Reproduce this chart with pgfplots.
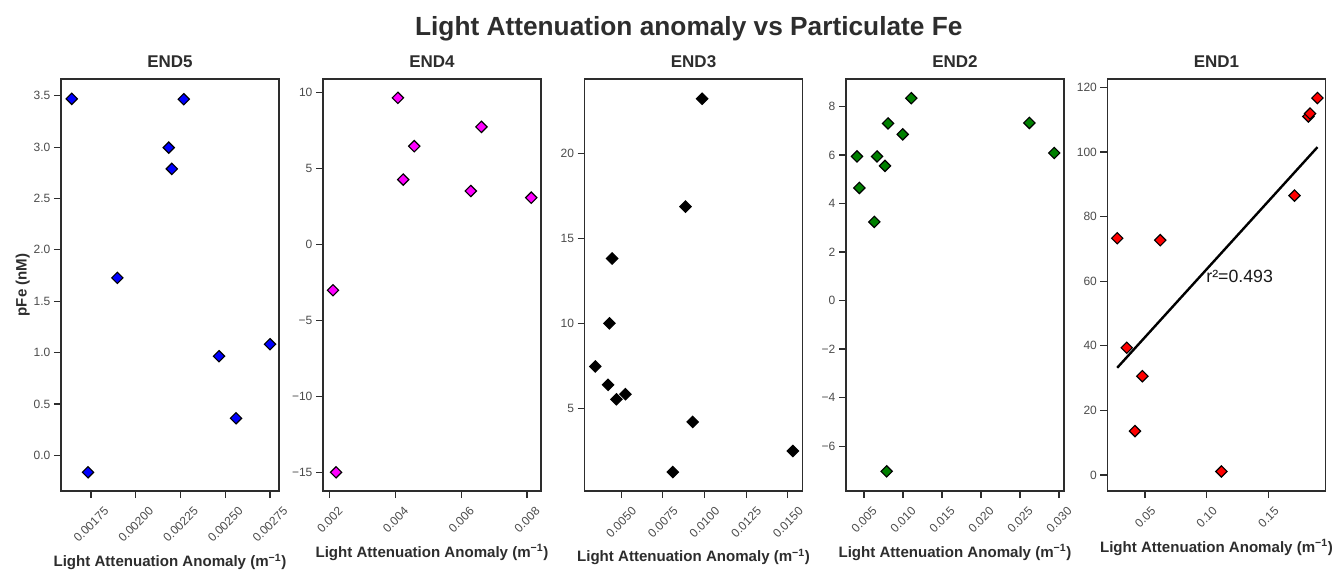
\documentclass[border=0pt]{standalone}
\usepackage{pgfplots}
\pgfplotsset{compat=1.18}
\usepackage{fontspec}
\setmainfont{Liberation Sans}
\usepackage{graphicx}
\definecolor{axgray}{RGB}{45,45,45}
\definecolor{tkgray}{RGB}{75,75,75}
\definecolor{cblue}{RGB}{0,0,255}
\definecolor{cmag}{RGB}{255,0,255}
\definecolor{cgreen}{RGB}{0,128,0}
\definecolor{cred}{RGB}{255,0,0}
\newcommand{\rl}[1]{\rotatebox{45}{#1}}
\pgfplotsset{
  panel/.style={
    scale only axis, width=163.5pt, height=309pt,
    anchor=south west,
    scaled x ticks=false, scaled y ticks=false,
    axis line style={draw=axgray, line width=1.2pt},
    tick align=outside, xtick pos=bottom, ytick pos=left,
    major tick length=5.25pt,
    every tick/.style={draw=axgray, line width=0.9pt},
    tick label style={font=\fontsize{9}{10}\selectfont, text=tkgray},
    xticklabel style={anchor=north, inner sep=0pt, yshift=-6pt},
    yticklabel style={anchor=east, inner sep=0pt, xshift=-2.5pt},
    title style={font=\bfseries\fontsize{12.75}{14}\selectfont, text=axgray, at={(0.5,1)}, anchor=base, yshift=2.8pt},
    xlabel={Light Attenuation Anomaly (m\textsuperscript{−1})},
    xlabel style={font=\bfseries\fontsize{11.3}{13}\selectfont, text=axgray, at={(ticklabel cs:0.5)}, anchor=north, inner sep=0pt, yshift=-8pt},
  },
  pts/.style={only marks, mark=square*, mark size=3.0pt, mark options={rotate=45, draw=black, line width=0.85pt, fill=#1}},
}
\begin{document}
\begin{tikzpicture}
\path[use as bounding box] (0,0) rectangle (1001.25pt,426.75pt);
\node[anchor=base, font=\bfseries\fontsize{19.7}{22}\selectfont, text=axgray] at (516.6pt,399.75pt) {Light Attenuation anomaly vs Particulate Fe};

% END5
\begin{axis}[panel, at={(45.75pt,58.5pt)}, title={END5},
  xmin=0.001582, xmax=0.00280, ymin=-0.348, ymax=3.663,
  xtick={0.00175,0.002,0.00225,0.0025,0.00275},
  xticklabels={\rl{0.00175},\rl{0.00200},\rl{0.00225},\rl{0.00250},\rl{0.00275}},
  ytick={0,0.5,1,1.5,2,2.5,3,3.5},
  yticklabels={0.0,0.5,1.0,1.5,2.0,2.5,3.0,3.5},
  ylabel={pFe (nM)},
  ylabel style={font=\bfseries\fontsize{11.3}{13}\selectfont, text=axgray, at={(axis description cs:-0.1757,0.5)}, anchor=center},
]
\addplot[pts=cblue] coordinates {
(0.001642,3.47) (0.001733,-0.166) (0.001897,1.727) (0.002184,2.995) (0.002201,2.788)
(0.002268,3.466) (0.002465,0.964) (0.00256,0.36) (0.00275,1.081)};
\end{axis}

% END4
\begin{axis}[panel, at={(242.25pt,58.5pt)}, title={END4},
  xmin=0.001796, xmax=0.008427, ymin=-16.23, ymax=10.88,
  xtick={0.002,0.004,0.006,0.008},
  xticklabels={\rl{0.002},\rl{0.004},\rl{0.006},\rl{0.008}},
  ytick={-15,-10,-5,0,5,10},
  yticklabels={−15,−10,−5,0,5,10},
]
\addplot[pts=cmag] coordinates {
(0.004074,9.64) (0.004572,6.46) (0.004236,4.26) (0.006616,7.73) (0.006292,3.51)
(0.00813,3.07) (0.0021,-3.02) (0.002193,-15.0)};
\end{axis}

% END3
\begin{axis}[panel, at={(438.4pt,58.5pt)}, title={END3},
  xmin=0.002806, xmax=0.01588, ymin=0.135, ymax=24.37,
  xtick={0.005,0.0075,0.01,0.0125,0.015},
  xticklabels={\rl{0.0050},\rl{0.0075},\rl{0.0100},\rl{0.0125},\rl{0.0150}},
  ytick={5,10,15,20},
  yticklabels={5,10,15,20},
]
\addplot[pts=black] coordinates {
(0.00986,23.21) (0.00886,16.86) (0.00446,13.81) (0.0043,10.0) (0.00345,7.46)
(0.00422,6.38) (0.00472,5.53) (0.00526,5.83) (0.00929,4.2) (0.0081,1.25) (0.0153,2.49)};
\end{axis}

% END2
\begin{axis}[panel, at={(634.5pt,58.5pt)}, title={END2},
  xmin=0.00269, xmax=0.03064, ymin=-7.85, ymax=9.13,
  xtick={0.005,0.01,0.015,0.02,0.025,0.03},
  xticklabels={\rl{0.005},\rl{0.010},\rl{0.015},\rl{0.020},\rl{0.025},\rl{0.030}},
  ytick={-6,-4,-2,0,2,4,6,8},
  yticklabels={−6,−4,−2,0,2,4,6,8},
]
\addplot[pts=cgreen] coordinates {
(0.0041,5.94) (0.0044,4.64) (0.00632,3.24) (0.00667,5.94) (0.00769,5.55)
(0.00808,7.30) (0.00996,6.85) (0.01106,8.34) (0.0262,7.32) (0.02939,6.08) (0.0079,-7.04)};
\end{axis}

% END1
\begin{axis}[panel, at={(830.6pt,58.5pt)}, title={END1},
  xmin=0.0195, xmax=0.1963, ymin=-4.95, ymax=122.6,
  xtick={0.05,0.10,0.15},
  xticklabels={\rl{0.05},\rl{0.10},\rl{0.15}},
  ytick={0,20,40,60,80,100,120},
  yticklabels={0,20,40,60,80,100,120},
]
\addplot[pts=cred] coordinates {
(0.0274,73.3) (0.0351,39.4) (0.0418,13.6) (0.0478,30.6) (0.0623,72.7)
(0.1119,1.1) (0.1712,86.5) (0.1824,111.0) (0.1838,111.9) (0.1898,116.7)};
\addplot[black, line width=1.8pt, no marks] coordinates {(0.0274,33.2) (0.1898,101.5)};
\node[anchor=base west, inner sep=0pt, font=\fontsize{13.3}{15}\selectfont, text=black!90] at (axis cs:0.0995,59.7) {r²=0.493};
\end{axis}
\end{tikzpicture}
\end{document}
